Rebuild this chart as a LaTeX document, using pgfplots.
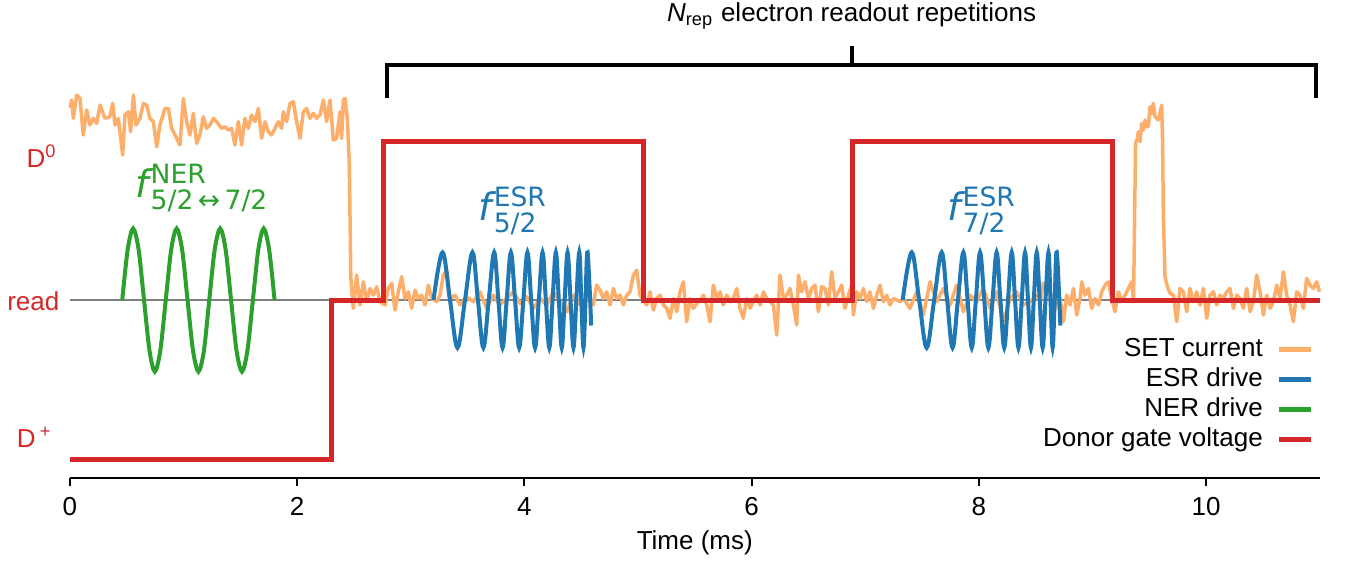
\documentclass[border=0pt]{standalone}
\usepackage{amsmath}
\usepackage{fontspec}
\setmainfont{Liberation Sans}
\newfontfamily\dejavu{DejaVu Sans}
\usepackage{pgfplots}
\pgfplotsset{compat=1.18}

\definecolor{setorange}{HTML}{FDAE6B}
\definecolor{esrblue}{HTML}{1F77B4}
\definecolor{nergreen}{HTML}{2CA02C}
\definecolor{gatered}{HTML}{D62728}

\begin{document}
\begin{tikzpicture}
\begin{axis}[
    scale only axis,
    width=374.9pt, height=143.4pt,
    xmin=0, xmax=11,
    ymin=-1.119, ymax=1.887,
    clip=false,
    axis x line*=bottom,
    axis y line=none,
    axis line style={line width=0.6pt},
    xtick={0,2,...,10},
    tick align=outside,
    major tick length=2.4pt,
    x tick style={black, line width=0.6pt},
    tick label style={font=\fontsize{7.8}{9}\selectfont},
    /pgf/number format/assume math mode=true,
    xlabel={Time (ms)},
    xlabel style={font=\fontsize{7.8}{9}\selectfont, at={(axis description cs:0.5,-0.136)}, anchor=center},
    legend plot pos=right,
    legend cell align=right,
    legend style={draw=none, fill=none, font=\fontsize{7.8}{9}\selectfont,
        at={(axis cs:11.04,-0.18)}, anchor=north east,
        row sep=0.8pt,
        nodes={inner sep=0.5pt, text height=5.6pt, text depth=1.6pt}},
    legend image code/.code={\path (0pt,0pt); \draw[#1, line width=1.5pt] (3.6pt,0pt) -- (13.2pt,0pt);},
]

% read level
\addplot[gray, line width=0.45pt, forget plot] coordinates {(0,0) (11,0)};

% SET current trace
\addplot[setorange, line width=1.05pt, line join=round] coordinates {
(0.000,1.210) (0.015,1.258) (0.030,1.143) (0.059,1.289) (0.088,1.268) (0.117,1.038)
(0.147,1.195) (0.176,1.101) (0.205,1.143) (0.235,1.111) (0.264,1.226) (0.308,1.143)
(0.352,1.153) (0.376,1.237) (0.396,1.101) (0.425,1.143) (0.464,0.912) (0.484,1.164)
(0.514,1.184) (0.534,1.059) (0.558,1.289) (0.581,1.101) (0.616,1.143) (0.646,1.237)
(0.675,1.226) (0.704,1.143) (0.734,1.122) (0.763,0.964) (0.792,1.101) (0.836,1.205)
(0.866,1.205) (0.895,1.080) (0.939,1.017) (0.968,0.975) (0.998,1.268) (1.027,1.122)
(1.056,1.038) (1.086,1.174) (1.115,0.985) (1.144,1.038) (1.174,1.153) (1.203,1.080)
(1.232,1.101) (1.262,1.143) (1.291,1.122) (1.335,1.080) (1.364,1.090) (1.394,1.069)
(1.423,1.080) (1.452,0.975) (1.482,1.122) (1.511,0.975) (1.540,1.143) (1.570,1.080)
(1.599,1.164) (1.629,1.122) (1.658,1.205) (1.687,1.017) (1.717,1.122) (1.746,1.059)
(1.775,1.038) (1.805,1.080) (1.834,1.122) (1.863,1.080) (1.878,1.184) (1.907,1.122)
(1.937,1.237) (1.966,1.247) (1.995,1.122) (2.025,1.017) (2.054,1.184) (2.083,1.205)
(2.113,1.143) (2.142,1.174) (2.171,1.143) (2.201,1.164) (2.230,1.258) (2.259,1.122)
(2.289,1.258) (2.318,1.006) (2.347,1.017) (2.377,1.184) (2.391,1.017) (2.406,1.258)
(2.421,1.268) (2.441,1.143) (2.459,0.849) (2.472,0.150)
(2.479,0.073) (2.494,-0.052) (2.523,0.157) (2.553,-0.031) (2.582,0.115) (2.612,-0.010)
(2.641,0.073) (2.670,0.031) (2.700,0.084) (2.729,-0.010) (2.773,-0.031) (2.802,0.073)
(2.832,0.105) (2.861,-0.063) (2.890,0.052) (2.920,0.147) (2.949,0.010) (2.978,0.052)
(3.008,-0.052) (3.037,0.063) (3.066,0.010) (3.096,0.031) (3.125,-0.031) (3.154,0.094)
(3.184,0.010) (3.228,-0.010) (3.257,0.031) (3.286,0.157) (3.316,0.189) (3.345,0.010)
(3.389,0.031) (3.433,-0.031) (3.492,0.021) (3.550,-0.010) (3.609,0.052) (3.668,-0.052)
(3.727,0.031) (3.785,-0.031) (3.844,0.010) (3.903,0.052) (3.961,-0.021) (4.020,0.021)
(4.079,-0.052) (4.138,0.010) (4.197,-0.031) (4.255,0.052) (4.314,-0.010) (4.373,-0.073)
(4.431,0.031) (4.490,-0.031) (4.548,0.010) (4.607,-0.031) (4.636,0.094) (4.665,0.063)
(4.695,0.010) (4.724,0.052) (4.754,-0.031) (4.783,0.073) (4.812,0.010) (4.842,0.031)
(4.871,-0.031) (4.901,0.031) (4.930,0.052) (4.959,0.157) (4.988,0.189) (5.018,0.031)
(5.047,0.000) (5.077,-0.031) (5.106,0.052) (5.135,-0.063) (5.164,0.010) (5.194,0.031)
(5.223,-0.031) (5.253,-0.052) (5.282,-0.115) (5.312,0.010) (5.341,-0.073) (5.370,0.052)
(5.399,0.115) (5.429,-0.136) (5.458,0.010) (5.487,-0.052) (5.531,-0.010)
(5.546,-0.010) (5.575,0.031) (5.605,-0.031) (5.634,-0.136) (5.663,0.094) (5.693,0.010)
(5.722,0.052) (5.751,-0.031) (5.781,0.031) (5.810,-0.010) (5.839,0.010) (5.869,0.073)
(5.898,-0.052) (5.927,-0.115) (5.957,0.010) (5.986,-0.052) (6.015,-0.010) (6.045,0.031)
(6.074,-0.031) (6.104,0.052) (6.133,0.010) (6.162,-0.010) (6.192,-0.031) (6.221,-0.220)
(6.250,0.157) (6.280,0.010) (6.309,0.031) (6.338,0.073) (6.368,-0.031) (6.397,-0.157)
(6.412,0.157) (6.441,0.052) (6.470,0.115) (6.500,0.010) (6.529,0.073) (6.558,0.094)
(6.588,-0.073) (6.617,0.084) (6.646,0.073) (6.676,-0.031) (6.705,0.178) (6.734,0.010)
(6.764,0.052) (6.793,0.094) (6.822,-0.052) (6.852,0.031) (6.881,0.094) (6.896,-0.094)
(6.925,0.052) (6.954,0.010) (6.984,0.073) (7.013,-0.010) (7.042,0.052) (7.072,-0.052)
(7.101,0.031) (7.130,0.094) (7.160,-0.010) (7.189,0.031) (7.218,-0.031) (7.248,0.010)
(7.277,0.000) (7.306,-0.010) (7.336,0.010) (7.394,-0.052) (7.453,0.052) (7.512,-0.094)
(7.571,0.115) (7.629,-0.010) (7.688,0.073) (7.747,-0.031) (7.805,0.094) (7.864,-0.073)
(7.923,0.031) (7.981,-0.010) (8.040,0.073) (8.099,-0.052) (8.157,0.052) (8.216,-0.136)
(8.275,0.010) (8.333,0.052) (8.392,-0.031) (8.451,-0.010) (8.509,0.031)
(8.539,-0.010) (8.568,0.105) (8.627,0.052) (8.656,-0.073) (8.715,0.010) (8.744,-0.136)
(8.774,0.031) (8.803,-0.031) (8.833,0.073) (8.862,-0.094) (8.891,0.010) (8.906,0.115)
(8.935,0.031) (8.965,0.073) (8.994,-0.052) (9.023,0.010) (9.053,-0.031) (9.082,0.052)
(9.111,0.094) (9.141,0.115) (9.170,0.010) (9.199,-0.073) (9.229,0.052) (9.258,-0.010)
(9.287,0.031) (9.317,0.073) (9.346,0.115) (9.362,-0.010)
(9.380,0.996) (9.390,0.996) (9.404,1.059) (9.419,0.996) (9.434,1.111) (9.448,1.069)
(9.463,1.132) (9.478,1.090) (9.492,1.090) (9.507,1.216) (9.522,1.174) (9.536,1.237)
(9.551,1.153) (9.580,1.132) (9.610,1.226) (9.618,0.985) (9.624,0.545) (9.639,0.147)
(9.660,0.084) (9.683,0.042)
(9.713,0.031) (9.742,-0.136) (9.771,0.073) (9.801,0.052) (9.830,-0.073) (9.859,0.073)
(9.889,-0.010) (9.918,0.052) (9.947,-0.031) (9.977,0.073) (10.006,-0.115) (10.035,0.031)
(10.065,0.052) (10.094,-0.031) (10.123,0.031) (10.153,0.010) (10.182,0.052) (10.211,0.073)
(10.241,-0.052) (10.270,0.031) (10.299,0.010) (10.329,-0.052) (10.358,0.073) (10.388,-0.073)
(10.417,-0.010) (10.446,0.157) (10.476,0.052) (10.505,-0.094) (10.534,0.031) (10.564,-0.052)
(10.593,-0.010) (10.622,0.094) (10.652,0.010) (10.681,0.178) (10.710,0.031) (10.740,-0.031)
(10.769,-0.136) (10.798,0.052) (10.828,0.031) (10.857,-0.052) (10.886,0.136) (10.916,0.094)
(10.945,0.073) (10.974,0.115) (11.000,0.052)
};
\addlegendentry{SET current}

% ESR drive, first chirp
\addplot[esrblue, line width=1.2pt, smooth, tension=0.6] coordinates {
(3.200,0) (3.279,0.30) (3.345,0) (3.411,-0.30) (3.477,0) (3.543,0.30) (3.591,0)
(3.639,-0.30) (3.686,0) (3.734,0.30) (3.771,0) (3.808,-0.30) (3.844,0) (3.881,0.30)
(3.918,0) (3.954,-0.30) (3.991,0) (4.027,0.30) (4.060,0) (4.094,-0.30) (4.127,0)
(4.160,0.30) (4.189,0) (4.219,-0.30) (4.248,0) (4.277,0.30) (4.303,0) (4.329,-0.30)
(4.354,0) (4.380,0.30) (4.406,0) (4.432,-0.30) (4.457,0) (4.483,0.30) (4.501,0)
(4.520,-0.30) (4.538,0) (4.556,0.30) (4.588,-0.16)
};
\addlegendentry{ESR drive}

% ESR drive, second chirp
\addplot[esrblue, line width=1.2pt, smooth, tension=0.6, forget plot] coordinates {
(7.330,0) (7.409,0.30) (7.475,0) (7.541,-0.30) (7.607,0) (7.673,0.30) (7.721,0)
(7.769,-0.30) (7.816,0) (7.864,0.30) (7.901,0) (7.938,-0.30) (7.974,0) (8.011,0.30)
(8.048,0) (8.084,-0.30) (8.121,0) (8.157,0.30) (8.190,0) (8.224,-0.30) (8.257,0)
(8.290,0.30) (8.319,0) (8.349,-0.30) (8.378,0) (8.407,0.30) (8.433,0) (8.459,-0.30)
(8.484,0) (8.510,0.30) (8.536,0) (8.562,-0.30) (8.587,0) (8.613,0.30) (8.631,0)
(8.650,-0.30) (8.668,0) (8.686,0.30) (8.718,-0.16)
};

% NER drive
\addplot[nergreen, line width=1.2pt, smooth] coordinates {
(0.460,0) (0.508,0.318) (0.556,0.45) (0.604,0.318) (0.652,0) (0.700,-0.318) (0.747,-0.45)
(0.795,-0.318) (0.843,0) (0.891,0.318) (0.939,0.45) (0.987,0.318) (1.035,0) (1.083,-0.318)
(1.131,-0.45) (1.179,-0.318) (1.226,0) (1.274,0.318) (1.322,0.45) (1.370,0.318) (1.418,0)
(1.466,-0.318) (1.514,-0.45) (1.562,-0.318) (1.610,0) (1.658,0.318) (1.705,0.45)
(1.753,0.318) (1.801,0)
};
\addlegendentry{NER drive}

% donor gate voltage
\addplot[gatered, line width=1.5pt] coordinates {
(0,-1) (2.30,-1) (2.30,0) (2.76,0) (2.76,1) (5.05,1) (5.05,0)
(6.887,0) (6.887,1) (9.175,1) (9.175,0) (11,0)
};
\addlegendentry{Donor gate voltage}

% bracket over the readout repetitions
\addplot[black, line width=1.2pt, forget plot] coordinates {(2.79,1.27) (2.79,1.478) (10.97,1.478) (10.97,1.27)};
\addplot[black, line width=1.2pt, forget plot] coordinates {(6.88,1.478) (6.88,1.60)};
\node[anchor=base, inner sep=0pt, font=\fontsize{7.8}{9}\selectfont] at (axis cs:6.88,1.75) {\textit{N}\textsubscript{rep} electron readout repetitions};

% level labels
\node[anchor=base east, text=gatered, font=\fontsize{7.8}{9}\selectfont, inner sep=0pt] at (axis cs:-0.106,0.836) {D\textsuperscript{0}};
\node[anchor=base east, text=gatered, font=\fontsize{7.8}{9}\selectfont, inner sep=0pt] at (axis cs:-0.088,-0.063) {read};
\node[anchor=base east, text=gatered, font=\fontsize{7.8}{9}\selectfont, inner sep=0pt] at (axis cs:-0.150,-0.925) {D\,\textsuperscript{+}};

% drive labels
\node[anchor=base west, text=nergreen, inner sep=0pt, font=\fontsize{11.4}{13}\selectfont] at (axis cs:0.572,0.648)
  {$\text{\dejavu\itshape f}\kern0.5pt^{\text{\dejavu NER}}_{\text{\dejavu 5/2\,↔\,7/2}}$};
\node[anchor=base west, text=esrblue, inner sep=0pt, font=\fontsize{11.4}{13}\selectfont] at (axis cs:3.592,0.503)
  {$\text{\dejavu\itshape f}\kern0.5pt^{\text{\dejavu ESR}}_{\text{\dejavu 5/2}}$};
\node[anchor=base west, text=esrblue, inner sep=0pt, font=\fontsize{11.4}{13}\selectfont] at (axis cs:7.72,0.503)
  {$\text{\dejavu\itshape f}\kern0.5pt^{\text{\dejavu ESR}}_{\text{\dejavu 7/2}}$};

% page extent
\path (axis cs:-0.616,1.887) rectangle (axis cs:11.25,-1.642);
\end{axis}
\end{tikzpicture}
\end{document}
